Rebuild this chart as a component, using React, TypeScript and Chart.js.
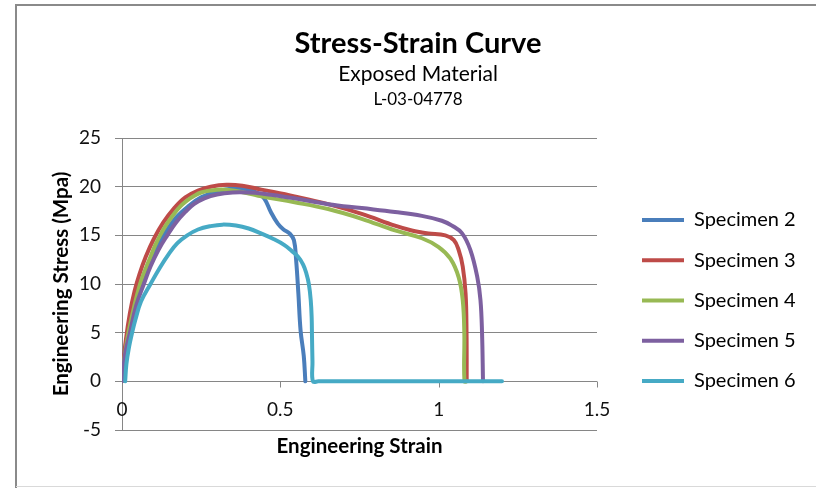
import React, { useEffect, useRef } from "react";
import { Chart, registerables } from "chart.js";

Chart.register(...registerables);

// ---------- data ----------
const SERIES_NAMES = ["Specimen 2", "Specimen 3", "Specimen 4", "Specimen 5", "Specimen 6"];
const SERIES_COLORS = ["#4A7EBB", "#BE4B48", "#98B954", "#7D60A0", "#46AAC5"];

const S2_STRAIN = [0, 0.004, 0.012, 0.025, 0.04, 0.058, 0.08, 0.105, 0.135, 0.17, 0.21, 0.25, 0.3, 0.35, 0.4, 0.43, 0.45, 0.47, 0.492, 0.51, 0.529, 0.543, 0.55, 0.557, 0.564, 0.574, 0.579];
const S2_STRESS = [0, 1.6, 3.8, 6.2, 8.3, 10.0, 11.8, 13.5, 15.2, 16.8, 18.0, 18.9, 19.5, 19.8, 19.7, 19.3, 18.75, 17.4, 16.2, 15.6, 15.2, 14.5, 12.4, 9.0, 5.2, 2.6, 0];

const S3_STRAIN = [0, 0.004, 0.012, 0.025, 0.04, 0.055, 0.075, 0.1, 0.13, 0.165, 0.2, 0.24, 0.28, 0.33, 0.38, 0.44, 0.545, 0.651, 0.757, 0.862, 0.915, 0.947, 0.968, 1.021, 1.048, 1.063, 1.076, 1.085, 1.088, 1.0885];
const S3_STRESS = [0, 1.7, 4.2, 7.0, 9.3, 11.0, 12.8, 14.6, 16.3, 17.8, 18.9, 19.6, 20.0, 20.2, 20.1, 19.7, 19.0, 18.2, 17.2, 16.0, 15.5, 15.3, 15.2, 15.0, 14.5, 13.5, 11.8, 9.0, 5.0, 0];

const S4_STRAIN = [0, 0.004, 0.012, 0.021, 0.04, 0.058, 0.075, 0.09, 0.105, 0.122, 0.14, 0.164, 0.185, 0.206, 0.23, 0.25, 0.28, 0.315, 0.35, 0.4, 0.44, 0.545, 0.651, 0.757, 0.862, 0.947, 1.0, 1.037, 1.063, 1.076, 1.081, 1.0815, 1.09];
const S4_STRESS = [0, 1.4, 3.4, 5.1, 7.9, 10.1, 11.6, 12.8, 14.0, 15.1, 16.1, 17.2, 18.0, 18.6, 19.1, 19.4, 19.6, 19.7, 19.6, 19.3, 19.0, 18.4, 17.7, 16.7, 15.5, 14.7, 13.8, 12.6, 10.7, 8.35, 4.95, 0, 0];

const S5_STRAIN = [0, 0.004, 0.012, 0.025, 0.045, 0.069, 0.09, 0.115, 0.143, 0.17, 0.2, 0.227, 0.26, 0.3, 0.35, 0.4, 0.44, 0.545, 0.651, 0.757, 0.862, 0.947, 1.01, 1.042, 1.074, 1.1, 1.122, 1.132, 1.137, 1.14];
const S5_STRESS = [0, 1.3, 3.2, 5.0, 7.8, 10.0, 11.8, 13.5, 15.0, 16.3, 17.4, 18.2, 18.8, 19.2, 19.4, 19.4, 19.3, 18.8, 18.2, 17.8, 17.4, 17.0, 16.5, 16.0, 15.2, 13.5, 10.7, 8.35, 4.95, 0];

const S6_STRAIN = [0.01, 0.014, 0.022, 0.032, 0.042, 0.06, 0.09, 0.12, 0.148, 0.175, 0.206, 0.24, 0.28, 0.317, 0.36, 0.4, 0.439, 0.48, 0.513, 0.536, 0.556, 0.572, 0.582, 0.59, 0.596, 0.599, 0.6, 0.6015, 0.603, 0.62, 1.2];
const S6_STRESS = [0, 1.8, 3.5, 5.0, 6.3, 8.2, 10.0, 11.7, 13.1, 14.2, 15.0, 15.6, 15.95, 16.1, 16.0, 15.7, 15.2, 14.6, 14.0, 13.4, 12.8, 12.0, 11.1, 10.0, 8.35, 6.5, 4.6, 2.0, 0, 0, 0];

const STRAINS = [S2_STRAIN, S3_STRAIN, S4_STRAIN, S5_STRAIN, S6_STRAIN];
const STRESSES = [S2_STRESS, S3_STRESS, S4_STRESS, S5_STRESS, S6_STRESS];

const X_TICKS = [0, 0.5, 1, 1.5];
const X_TICK_LABELS = ["0", "0.5", "1", "1.5"];
const X_MIN = 0;
const X_MAX = 1.5;
const Y_MIN = -5;
const Y_MAX = 25;
const Y_STEP = 5;

const TITLE = "Stress-Strain Curve";
const SUBTITLE = "Exposed Material";
const SUBTITLE2 = "L-03-04778";
const X_TITLE = "Engineering Strain";
const Y_TITLE = "Engineering Stress (Mpa)";

// ---------- styling ----------
const FONT = "Lato";
const GRID = "#868686";
const TICK_FONT = 19;
const AXIS_TITLE_FONT = 20.5;
const LEGEND_FONT = 20;
const LEGEND_PAD = 20.25;
const LEGEND_X = 642;
const LEGEND_Y = 220;

const decorPlugin = {
  id: "decor",
  afterLayout(chart: any) {
    const lg = chart.legend;
    if (lg) {
      lg.left = LEGEND_X - LEGEND_PAD;
      lg.right = lg.left + lg.width;
      lg.top = LEGEND_Y - LEGEND_PAD - LEGEND_FONT / 2;
      lg.bottom = lg.top + 400;
    }
  },
  beforeDraw(chart: any) {
    const ctx = chart.ctx;
    ctx.save();
    ctx.fillStyle = "#ffffff";
    ctx.fillRect(0, 0, chart.width, chart.height);
    ctx.strokeStyle = "#8a8a8a";
    ctx.lineWidth = 2;
    ctx.beginPath();
    ctx.moveTo(16, chart.height);
    ctx.lineTo(16, 5);
    ctx.lineTo(chart.width, 5);
    ctx.stroke();
    ctx.strokeStyle = "#d9d9d9";
    ctx.lineWidth = 1;
    ctx.beginPath();
    ctx.moveTo(16, 486.5);
    ctx.lineTo(chart.width, 486.5);
    ctx.stroke();
    ctx.restore();
  },
  beforeDatasetsDraw(chart: any) {
    const ctx = chart.ctx;
    const xs = chart.scales.x;
    const ys = chart.scales.y;
    const y0 = Math.round(ys.getPixelForValue(0)) + 0.5;
    ctx.save();
    ctx.strokeStyle = GRID;
    ctx.lineWidth = 1;
    ctx.beginPath();
    X_TICKS.forEach((v) => {
      const px = Math.round(xs.getPixelForValue(v)) + 0.5;
      ctx.moveTo(px, y0);
      ctx.lineTo(px, y0 + 6);
    });
    ctx.stroke();
    ctx.restore();
  },
  afterDraw(chart: any) {
    const ctx = chart.ctx;
    const xs = chart.scales.x;
    const ys = chart.scales.y;
    const y0 = ys.getPixelForValue(0);
    ctx.save();
    ctx.fillStyle = "#111111";
    ctx.font = `${TICK_FONT}px ${FONT}`;
    ctx.textAlign = "center";
    ctx.textBaseline = "middle";
    X_TICKS.forEach((v, i) => {
      ctx.fillText(X_TICK_LABELS[i], xs.getPixelForValue(v), y0 + 29);
    });
    const cx = 418;
    ctx.fillStyle = "#000000";
    ctx.font = `bold 29px ${FONT}`;
    ctx.fillText(TITLE, cx, 44);
    ctx.font = `21px ${FONT}`;
    ctx.fillText(SUBTITLE, cx, 74);
    ctx.font = `17px ${FONT}`;
    ctx.fillText(SUBTITLE2, cx, 100);
    ctx.restore();
  },
};

export default function App() {
  const ref = useRef<HTMLCanvasElement | null>(null);

  useEffect(() => {
    if (!ref.current) return;
    const datasets = SERIES_NAMES.map((name, i) => ({
      label: name,
      data: STRAINS[i].map((x, j) => ({ x, y: STRESSES[i][j] })),
      borderColor: SERIES_COLORS[i],
      backgroundColor: SERIES_COLORS[i],
      borderWidth: 4,
      pointRadius: 0,
      pointHoverRadius: 0,
      fill: false,
      tension: 0.4,
      borderCapStyle: "round" as const,
      borderJoinStyle: "round" as const,
      order: SERIES_NAMES.length - i,
    }));

    const chart = new Chart(ref.current, {
      type: "line",
      data: { datasets },
      plugins: [decorPlugin],
      options: {
        animation: false,
        responsive: false,
        maintainAspectRatio: false,
        devicePixelRatio: 1,
        layout: { padding: { left: 15, right: 219, top: 138, bottom: 0 } },
        plugins: {
          title: { display: false },
          tooltip: { enabled: false },
          legend: {
            display: true,
            position: "chartArea" as any,
            align: "start",
            labels: {
              boxWidth: 42,
              boxHeight: 4,
              padding: LEGEND_PAD,
              color: "#000000",
              font: { family: FONT, size: LEGEND_FONT },
              sort: (a: any, b: any) => a.datasetIndex - b.datasetIndex,
              generateLabels: (c: any) =>
                (Chart.defaults.plugins.legend.labels.generateLabels as any)(c).map((l: any) => ({
                  ...l,
                  lineWidth: 0,
                  fillStyle: l.strokeStyle,
                })),
            },
          },
        },
        scales: {
          x: {
            type: "linear",
            min: X_MIN,
            max: X_MAX,
            ticks: { display: false, stepSize: 0.5 },
            grid: { display: false },
            border: { display: false },
            title: {
              display: true,
              text: X_TITLE,
              color: "#000000",
              font: { family: FONT, size: AXIS_TITLE_FONT, weight: "bold" },
              padding: { top: 0, bottom: 29 },
            },
            afterFit: (s: any) => {
              s.height = 58;
            },
          },
          y: {
            type: "linear",
            min: Y_MIN,
            max: Y_MAX,
            ticks: {
              stepSize: Y_STEP,
              color: "#111111",
              font: { family: FONT, size: TICK_FONT },
              padding: 14,
            },
            grid: { color: GRID, lineWidth: 1, tickLength: 7 },
            border: { display: true, color: GRID, width: 1 },
            title: {
              display: true,
              text: Y_TITLE,
              color: "#000000",
              font: { family: FONT, size: AXIS_TITLE_FONT, weight: "bold" },
              padding: { top: 34, bottom: 0 },
            },
            afterFit: (s: any) => {
              s.width = 107;
            },
          },
        },
      },
    });
    return () => chart.destroy();
  }, []);

  return (
    <div style={{ position: "absolute", left: 0, top: 0, width: 816, height: 488 }}>
      <canvas ref={ref} width={816} height={488} style={{ width: 816, height: 488, display: "block" }} />
    </div>
  );
}
